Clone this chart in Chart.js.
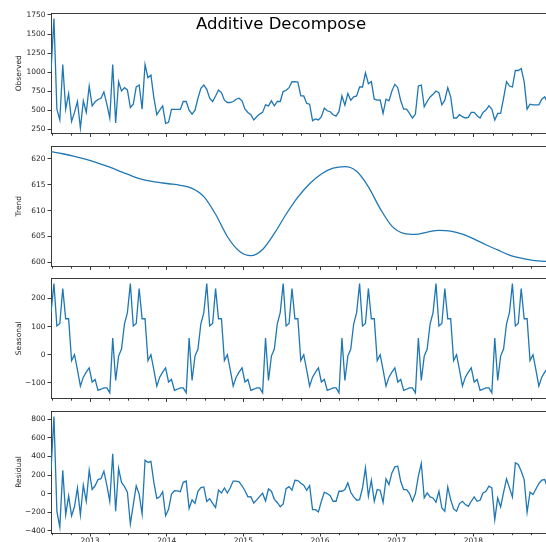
<!DOCTYPE html>
<html>
<head>
<meta charset="utf-8">
<title>Additive Decompose</title>
<script src="https://cdn.jsdelivr.net/npm/chart.js@4.4.1/dist/chart.umd.min.js"></script>
<style>
  html, body { margin: 0; padding: 0; background: #fff; overflow: hidden; }
  #wrap { position: relative; width: 546px; height: 542px; }
  #wrap canvas { position: absolute; left: 0; }
  #suptitle {
    position: absolute; left: 0; top: 15.5px; width: 562px;
    text-align: center; white-space: nowrap;
    font-family: 'DejaVu Sans', sans-serif; font-size: 16.5px; line-height: 1;
    color: #000;
  }
</style>
</head>
<body>
<div id="wrap">
  <canvas id="observed"></canvas>
  <canvas id="trend"></canvas>
  <canvas id="seasonal"></canvas>
  <canvas id="residual"></canvas>
  <div id="suptitle">Additive Decompose</div>
</div>
<script>
// bi-weekly series, first sample at the end of June 2012
const startYear = 2012.491;
const stepYears = 14 / 365.25;
const period = 26;

const observed = [
  1015, 1704, 517, 375, 1101, 517, 720, 357, 474, 617,
  270, 626, 474, 820, 560, 613, 643, 660, 742, 582,
  401, 1101, 336, 876, 755, 798, 768, 539, 582, 807,
  833, 517, 1101, 928, 963, 669, 444, 504, 560, 332,
  345, 513, 513, 513, 513, 617, 617, 504, 452, 504,
  660, 790, 833, 777, 660, 617, 690, 768, 734, 634,
  604, 604, 617, 647, 660, 626, 517, 474, 444, 375,
  418, 452, 474, 574, 560, 626, 560, 617, 617, 747,
  764, 798, 876, 876, 870, 690, 690, 591, 582, 366,
  388, 375, 418, 530, 496, 483, 444, 425, 487, 690,
  569, 721, 634, 677, 690, 807, 807, 993, 850, 876,
  647, 634, 638, 461, 647, 626, 755, 842, 798, 626,
  517, 517, 461, 401, 453, 820, 833, 548, 617, 677,
  712, 755, 734, 574, 634, 798, 677, 401, 401, 444,
  418, 401, 410, 474, 474, 431, 401, 474, 505, 560,
  517, 375, 461, 461, 660, 876, 820, 807, 1023, 1023,
  1049, 876, 517, 582, 574, 574, 574, 647, 678, 604
];

// trend, one value every 4th sample
const trendEvery4 = [
  621.4, 621.0, 620.5, 619.9, 619.2, 618.4, 617.5, 616.6, 615.9, 615.5,
  615.2, 614.9, 614.3, 612.7, 609.3, 605.0, 602.2, 601.3, 602.5, 605.6,
  609.3, 612.6, 615.2, 617.1, 618.2, 618.5, 617.6, 614.6, 610.4, 607.0,
  605.6, 605.4, 605.85, 606.2, 606.05, 605.45, 604.5, 603.4, 602.4, 601.4,
  600.8, 600.4, 600.2, 600.1
];

// one yearly cycle of the seasonal component
const seasonalCycle = [
  150, 253, 102, 111, 235, 128, 128, -21, 0, -54,
  -112, -80, -62, -47, -97, -88, -127, -123, -118, -118,
  -136, 59, -92, -5, 20, 110
];

const residual = [
  250, 830, -190, -362, 250, -230, -25, -240, -140, 60,
  -230, 90, -84, 250, 45, 84, 151, 160, 241, 90,
  -83, 430, -191, 270, 120, 75, 15, -328, -120, 83,
  -5, -220, 360, 336, 348, 120, -52, -34, 20, -238,
  -170, -5, 30, 28, 20, 121, 135, -160, -68, -106,
  25, 64, 71, -85, -55, -106, -150, 38, 6, 60,
  6, 62, 135, 134, 126, 84, 30, -35, -33, -102,
  -68, -30, 4, -80, 50, 26, -62, -96, -142, -111,
  52, 75, 36, 143, 140, 112, 90, 36, 86, -173,
  -173, -198, -83, 14, 0, -22, -83, -83, 25, 25,
  43, 115, 14, -36, -72, -65, 60, 277, -29, 144,
  -83, 43, 36, -94, 158, 97, 223, 288, 295, 130,
  43, 43, 0, -83, 0, 187, 324, -47, 7, -36,
  -47, -94, 25, -155, -191, 72, -65, -166, -191, -108,
  -83, -119, -137, -83, -36, -83, -72, 7, 25, 79,
  61, -281, -47, -144, 14, 158, 61, -36, 331, 313,
  241, 151, -202, 14, -11, 50, 108, 144, 151, 61
];

const yearTicks = [2013, 2014, 2015, 2016, 2017, 2018];
const observedTicks = [250, 500, 750, 1000, 1250, 1500, 1750];
const trendTicks = [600, 605, 610, 615, 620];
const seasonalTicks = [-100, 0, 100, 200];
const residualTicks = [-400, -200, 0, 200, 400, 600, 800];

const xMin = startYear;
const xMax = startYear + 6.456;

const toPoints = (values, every) =>
  values.map((v, i) => ({ x: startYear + i * every * stepYears, y: v }));

const seasonal = observed.map((_, i) => seasonalCycle[i % period]);

const ink = '#262626';
const tickFont = { family: 'DejaVu Sans', size: 7.5 };
const fmt = v => String(v).replace('-', '\u2212');

// top spine plus quarterly minor ticks on the shared date axis
const frame = {
  id: 'frame',
  afterDraw(chart) {
    const { ctx, chartArea: a } = chart;
    const x = chart.scales.x;
    ctx.save();
    ctx.strokeStyle = ink;
    ctx.lineWidth = 0.9;
    ctx.beginPath();
    ctx.moveTo(a.left, Math.round(a.top) + 0.5);
    ctx.lineTo(a.right, Math.round(a.top) + 0.5);
    for (let yr = 2012; yr <= 2019; yr++) {
      for (const q of [0.25, 0.5, 0.75]) {
        const v = yr + q;
        if (v <= x.min || v >= x.max) continue;
        const px = Math.round(x.getPixelForValue(v)) + 0.5;
        ctx.moveTo(px, a.bottom);
        ctx.lineTo(px, a.bottom + 2.2);
      }
    }
    ctx.stroke();
    ctx.restore();
  }
};

const panels = [
  { id: 'observed', label: 'Observed', top: 13, data: toPoints(observed, 1), min: 198, max: 1776, ticks: observedTicks },
  { id: 'trend', label: 'Trend', top: 146, data: toPoints(trendEvery4, 4), min: 599.2, max: 622.5, ticks: trendTicks, smooth: true },
  { id: 'seasonal', label: 'Seasonal', top: 278, data: toPoints(seasonal, 1), min: -156, max: 273, ticks: seasonalTicks },
  { id: 'residual', label: 'Residual', top: 411, data: toPoints(residual, 1), min: -425, max: 890, ticks: residualTicks, last: true }
];

const padTop = 8;
const plotHeight = 122;

panels.forEach(p => {
  const xh = p.last ? 14 : 5;
  const canvas = document.getElementById(p.id);
  canvas.width = 546;
  canvas.height = padTop + plotHeight + xh;
  canvas.style.top = (p.top - padTop) + 'px';

  new Chart(canvas, {
    type: 'line',
    data: {
      datasets: [{
        data: p.data,
        borderColor: '#1f77b4',
        borderWidth: 1.3,
        pointRadius: 0,
        fill: false,
        tension: 0,
        cubicInterpolationMode: p.smooth ? 'monotone' : 'default'
      }]
    },
    options: {
      responsive: false,
      animation: false,
      devicePixelRatio: 1,
      layout: { padding: { top: padTop, left: 0, right: 0, bottom: 0 } },
      plugins: { legend: { display: false }, tooltip: { enabled: false } },
      scales: {
        x: {
          type: 'linear',
          min: xMin,
          max: xMax,
          afterBuildTicks: s => { s.ticks = yearTicks.map(v => ({ value: v })); },
          afterFit: s => { s.height = xh; },
          grid: { drawOnChartArea: false, drawTicks: true, tickLength: 3.5, tickColor: ink, tickWidth: 0.9 },
          border: { color: ink, width: 0.9 },
          ticks: {
            display: !!p.last,
            callback: v => String(v),
            font: tickFont,
            color: ink,
            padding: 0,
            maxRotation: 0,
            autoSkip: false
          }
        },
        y: {
          min: p.min,
          max: p.max,
          afterBuildTicks: s => { s.ticks = p.ticks.map(v => ({ value: v })); },
          afterFit: s => { s.width = 51; },
          grid: { drawOnChartArea: false, drawTicks: true, tickLength: 3.5, tickColor: ink, tickWidth: 0.9 },
          border: { color: ink, width: 0.9 },
          ticks: { callback: v => fmt(v), font: tickFont, color: ink, padding: 2, autoSkip: false },
          title: {
            display: true,
            text: p.label,
            font: tickFont,
            color: ink,
            padding: { top: 14.5, bottom: 0 }
          }
        }
      }
    },
    plugins: [frame]
  });
});
</script>
</body>
</html>
